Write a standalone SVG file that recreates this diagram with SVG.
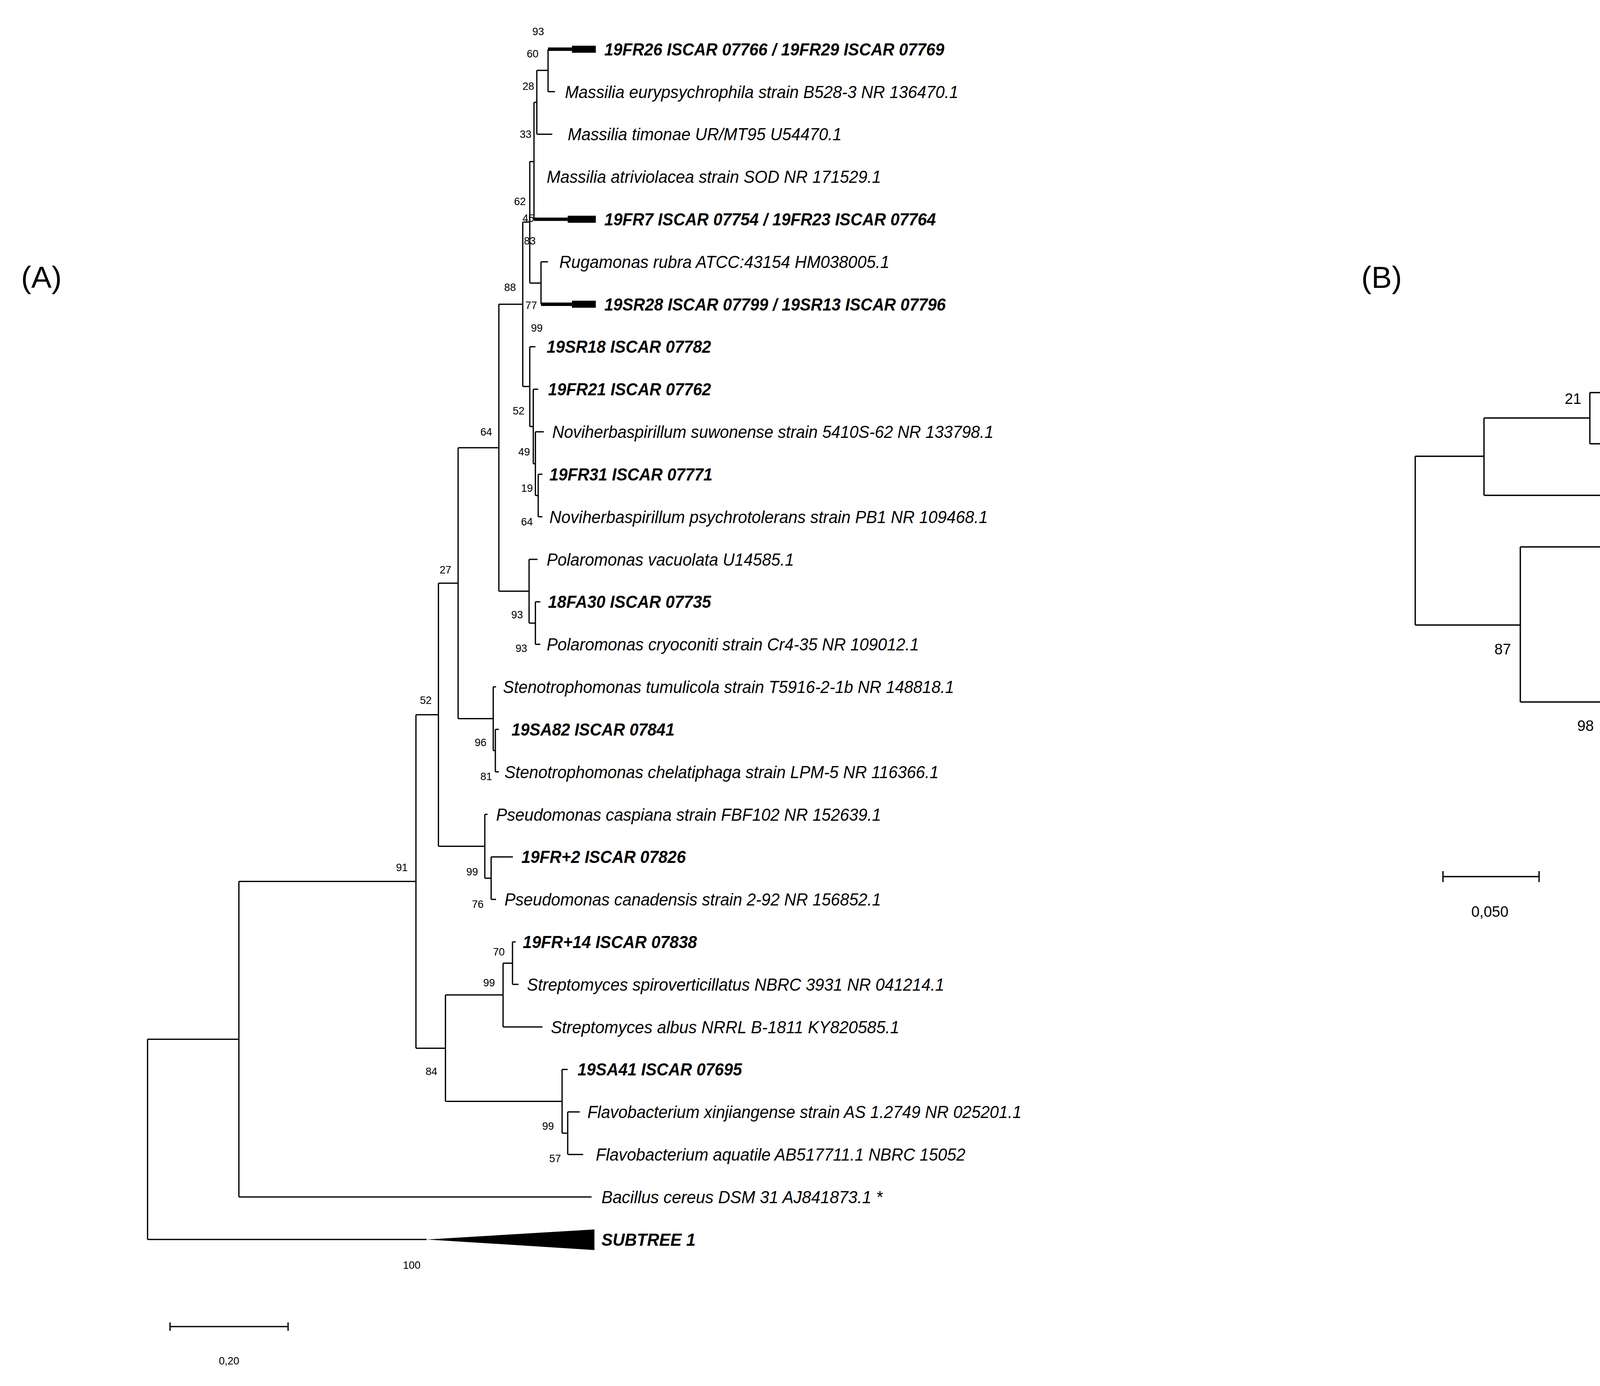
<svg xmlns="http://www.w3.org/2000/svg" width="5612" height="3548" viewBox="0 0 5612 3548">
<style>
.ln{fill:none;stroke:#000;stroke-width:0.9}
.lnb{fill:none;stroke:#000;stroke-width:3.4}
.tk{fill:none;stroke:#000;stroke-width:2.4}
.lb{font-family:"Liberation Sans",Arial,sans-serif;font-style:italic;font-size:12.5px;fill:#000}
.b{font-weight:bold}
.bs{font-family:"Liberation Sans",Arial,sans-serif;font-size:7.5px;fill:#000;text-anchor:middle}
.lbB{font-family:"Liberation Sans",Arial,sans-serif;font-style:italic;font-weight:bold;font-size:54px;fill:#000}
.bsB{font-family:"Liberation Sans",Arial,sans-serif;font-size:38px;fill:#000;text-anchor:middle}
.pn{font-family:"Liberation Sans",Arial,sans-serif;font-size:78px;fill:#000}
</style>
<rect width="5612" height="3548" fill="#fff"/>
<text class="pn" x="54" y="737">(A)</text>
<text class="pn" x="3485" y="737">(B)</text>
<g id="treeA" transform="scale(3.5974)">
<g id="connectorsA">
<path class="ln" d="M390,35V65.25 M382,50.1V95.5 M380,72.8V156 M377,115V201.4 M385,186.25V216.5 M372,158V275 M377,246.75V303.5 M379.5,277V330 M381,307.25V352.6 M383,337.5V367.75 M381,428.25V458.5 M376.5,398V443.4 M355,216.5V420.7 M352.5,519V549.25 M351,488.75V534.1 M326,318.6V511.4 M349.5,609.75V640 M345,579.5V624.9 M312,415V602.2 M364.7,670.25V700.5 M358,685.4V730.75 M404,791.25V821.5 M400,761V806.4 M317,708V783.7 M296,508.6V745.9 M170,627.2V851.75 M105,739.5V882"/>
<path class="ln" d="M390,65.25H395 M382,50.1H390 M382,95.5H393 M380,72.8H382 M377,115H380 M385,186.25H390 M377,201.4H385 M372,158H377 M377,246.75H381 M379.5,277H383 M381,307.25H387 M383,337.5H386 M383,367.75H386 M381,352.6H383 M379.5,330H381 M377,303.5H379.5 M372,275H377 M355,216.5H372 M376.5,398H382.5 M381,428.25H384.5 M381,458.5H384.5 M376.5,443.4H381 M355,420.7H376.5 M326,318.6H355 M351,488.75H353 M352.5,519H355 M352.5,549.25H355 M351,534.1H352.5 M326,511.4H351 M312,415H326 M345,579.5H347 M349.5,609.75H365 M349.5,640H353 M345,624.9H349.5 M312,602.2H345 M296,508.6H312 M364.7,670.25H367 M364.7,700.5H369 M358,685.4H364.7 M358,730.75H386 M317,708H358 M400,761H404 M404,791.25H412.6 M404,821.5H415 M400,806.4H404 M317,783.7H400 M296,745.9H317 M170,627.2H296 M170,851.75H421 M105,739.5H170 M105,882H303.6"/>
<path class="tk" d="M390,35H407 M380,156H404 M385,216.5H407"/>
<path d="M407,32.5H424V37.5H407Z M404,153.5H424V158.5H404Z M407,214H424V219H407Z M303.6,882L423,874.9V889.5Z" fill="#000"/>
</g>
<g id="labelsA">
<text class="lb b" x="430" y="39.4" textLength="242" lengthAdjust="spacingAndGlyphs">19FR26 ISCAR 07766 / 19FR29 ISCAR 07769</text>
<text class="lb" x="402" y="69.65" textLength="280" lengthAdjust="spacingAndGlyphs">Massilia eurypsychrophila strain B528-3 NR 136470.1</text>
<text class="lb" x="404" y="99.9" textLength="195" lengthAdjust="spacingAndGlyphs">Massilia timonae UR/MT95 U54470.1</text>
<text class="lb" x="389" y="130.15" textLength="238" lengthAdjust="spacingAndGlyphs">Massilia atriviolacea strain SOD NR 171529.1</text>
<text class="lb b" x="430" y="160.4" textLength="236" lengthAdjust="spacingAndGlyphs">19FR7 ISCAR 07754 / 19FR23 ISCAR 07764</text>
<text class="lb" x="398" y="190.65" textLength="235" lengthAdjust="spacingAndGlyphs">Rugamonas rubra ATCC:43154 HM038005.1</text>
<text class="lb b" x="430" y="220.9" textLength="243" lengthAdjust="spacingAndGlyphs">19SR28 ISCAR 07799 / 19SR13 ISCAR 07796</text>
<text class="lb b" x="389" y="251.15" textLength="117" lengthAdjust="spacingAndGlyphs">19SR18 ISCAR 07782</text>
<text class="lb b" x="390" y="281.4" textLength="116" lengthAdjust="spacingAndGlyphs">19FR21 ISCAR 07762</text>
<text class="lb" x="393" y="311.65" textLength="314" lengthAdjust="spacingAndGlyphs">Noviherbaspirillum suwonense strain 5410S-62 NR 133798.1</text>
<text class="lb b" x="391" y="341.9" textLength="116" lengthAdjust="spacingAndGlyphs">19FR31 ISCAR 07771</text>
<text class="lb" x="391" y="372.15" textLength="312" lengthAdjust="spacingAndGlyphs">Noviherbaspirillum psychrotolerans strain PB1 NR 109468.1</text>
<text class="lb" x="389" y="402.4" textLength="176" lengthAdjust="spacingAndGlyphs">Polaromonas vacuolata U14585.1</text>
<text class="lb b" x="390" y="432.65" textLength="116" lengthAdjust="spacingAndGlyphs">18FA30 ISCAR 07735</text>
<text class="lb" x="389" y="462.9" textLength="265" lengthAdjust="spacingAndGlyphs">Polaromonas cryoconiti strain Cr4-35 NR 109012.1</text>
<text class="lb" x="358" y="493.15" textLength="321" lengthAdjust="spacingAndGlyphs">Stenotrophomonas tumulicola strain T5916-2-1b NR 148818.1</text>
<text class="lb b" x="364" y="523.4" textLength="116" lengthAdjust="spacingAndGlyphs">19SA82 ISCAR 07841</text>
<text class="lb" x="359" y="553.65" textLength="309" lengthAdjust="spacingAndGlyphs">Stenotrophomonas chelatiphaga strain LPM-5 NR 116366.1</text>
<text class="lb" x="353" y="583.9" textLength="274" lengthAdjust="spacingAndGlyphs">Pseudomonas caspiana strain FBF102 NR 152639.1</text>
<text class="lb b" x="371" y="614.15" textLength="117" lengthAdjust="spacingAndGlyphs">19FR+2 ISCAR 07826</text>
<text class="lb" x="359" y="644.4" textLength="268" lengthAdjust="spacingAndGlyphs">Pseudomonas canadensis strain 2-92 NR 156852.1</text>
<text class="lb b" x="372" y="674.65" textLength="124" lengthAdjust="spacingAndGlyphs">19FR+14 ISCAR 07838</text>
<text class="lb" x="375" y="704.9" textLength="297" lengthAdjust="spacingAndGlyphs">Streptomyces spiroverticillatus NBRC 3931 NR 041214.1</text>
<text class="lb" x="392" y="735.15" textLength="248" lengthAdjust="spacingAndGlyphs">Streptomyces albus NRRL B-1811 KY820585.1</text>
<text class="lb b" x="411" y="765.4" textLength="117" lengthAdjust="spacingAndGlyphs">19SA41 ISCAR 07695</text>
<text class="lb" x="418" y="795.65" textLength="309" lengthAdjust="spacingAndGlyphs">Flavobacterium xinjiangense strain AS 1.2749 NR 025201.1</text>
<text class="lb" x="424" y="825.9" textLength="263" lengthAdjust="spacingAndGlyphs">Flavobacterium aquatile AB517711.1 NBRC 15052</text>
<text class="lb" x="428" y="856.15" textLength="200" lengthAdjust="spacingAndGlyphs">Bacillus cereus DSM 31 AJ841873.1 *</text>
<text class="lb b" x="428" y="886.4" textLength="67" lengthAdjust="spacingAndGlyphs">SUBTREE 1</text>
</g>
<g id="bootstrapA">
<text class="bs" x="383" y="25">93</text>
<text class="bs" x="379" y="41">60</text>
<text class="bs" x="376" y="64">28</text>
<text class="bs" x="374" y="98">33</text>
<text class="bs" x="370" y="146">62</text>
<text class="bs" x="376" y="158">45</text>
<text class="bs" x="377" y="174">83</text>
<text class="bs" x="363" y="207">88</text>
<text class="bs" x="378" y="220">77</text>
<text class="bs" x="382" y="236">99</text>
<text class="bs" x="369" y="295">52</text>
<text class="bs" x="373" y="324">49</text>
<text class="bs" x="375" y="350">19</text>
<text class="bs" x="375" y="374">64</text>
<text class="bs" x="346" y="310">64</text>
<text class="bs" x="317" y="408">27</text>
<text class="bs" x="368" y="440">93</text>
<text class="bs" x="371" y="464">93</text>
<text class="bs" x="303" y="501">52</text>
<text class="bs" x="342" y="531">96</text>
<text class="bs" x="346" y="555">81</text>
<text class="bs" x="286" y="620">91</text>
<text class="bs" x="336" y="623">99</text>
<text class="bs" x="340" y="646">76</text>
<text class="bs" x="355" y="680">70</text>
<text class="bs" x="348" y="702">99</text>
<text class="bs" x="307" y="765">84</text>
<text class="bs" x="390" y="804">99</text>
<text class="bs" x="395" y="827">57</text>
<text class="bs" x="293" y="903">100</text>
</g>
<g id="scaleA">
<path class="ln" d="M121,944H205 M121,941V947 M205,941V947"/>
<text class="bs" x="163" y="971">0,20</text>
</g>
</g>
<g id="treeB">
<g id="connectorsB">
<path class="lnb" d="M3623,1168V1600 M3623,1168H3799 M3623,1600H3892 M3799,1070V1268 M3799,1070H4070 M3799,1268H4440 M4070,1005V1136 M4070,1005H4606 M4070,1136H5020 M3892,1400V1797 M3892,1400H4638 M3892,1797H4106 M4106,1536V2058"/>
</g>
<text class="lbB" x="4632" y="1024" textLength="512" lengthAdjust="spacingAndGlyphs">18SA39 ISCAR 07842</text>
<text class="lbB" x="5045" y="1155" textLength="510" lengthAdjust="spacingAndGlyphs">19SA34 ISCAR 07666</text>
<text class="lbB" x="4465" y="1287" textLength="510" lengthAdjust="spacingAndGlyphs">19SA83 ISCAR 07656</text>
<text class="lbB" x="4667" y="1419" textLength="503" lengthAdjust="spacingAndGlyphs">18FA35 ISCAR 07746</text>
<text class="lbB" x="4128" y="1552" textLength="508" lengthAdjust="spacingAndGlyphs">18FA22 ISCAR 07843</text>
<text class="lbB" x="4128" y="1685" textLength="508" lengthAdjust="spacingAndGlyphs">18FA23 ISCAR 07743</text>
<text class="lbB" x="4128" y="1817" textLength="508" lengthAdjust="spacingAndGlyphs">18FA31 ISCAR 07844</text>
<text class="lbB" x="4128" y="1948" textLength="508" lengthAdjust="spacingAndGlyphs">18FA43 ISCAR 07845</text>
<text class="lbB" x="4128" y="2080" textLength="512" lengthAdjust="spacingAndGlyphs">19SA38 ISCAR 07650</text>
<text class="bsB" x="4027" y="1034">21</text>
<text class="bsB" x="3847" y="1675">87</text>
<text class="bsB" x="4059" y="1871">98</text>
<g id="scaleB">
<path class="lnb" d="M3694,2244H3940 M3694,2230V2258 M3940,2230V2258"/>
<text class="bsB" x="3814" y="2347">0,050</text>
</g>
</g>
</svg>
